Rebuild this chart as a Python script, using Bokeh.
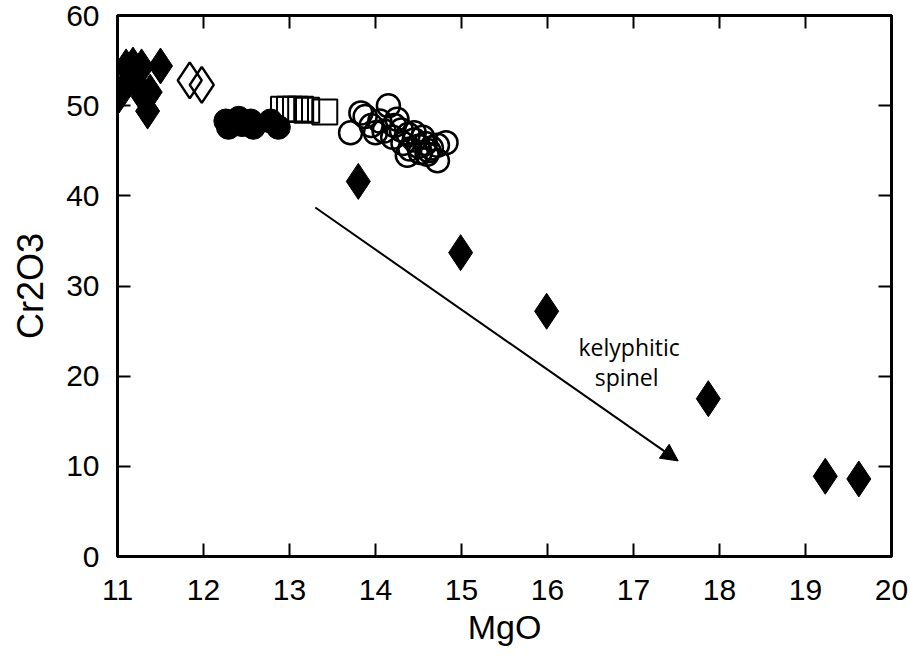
from bokeh.plotting import figure
from bokeh.models import Range1d, FixedTicker, LinearAxis, Arrow, NormalHead
from bokeh.core.properties import value
from bokeh.embed import file_html
from bokeh.resources import INLINE

# ---- data ----
fdia_x = [11.02, 11.1, 11.18, 11.28, 11.22, 11.3, 11.35, 11.38, 11.5, 11.15,
          13.80, 14.99, 15.99, 17.87, 19.23, 19.62]
fdia_y = [51.2, 54.3, 54.5, 54.3, 52.5, 51.0, 49.4, 51.5, 54.4, 53.0,
          41.6, 33.7, 27.2, 17.5, 8.9, 8.6]

odia_x = [11.84, 11.98]
odia_y = [52.8, 52.3]

fcir_x = [12.26, 12.41, 12.29, 12.58, 12.55, 12.87, 12.78, 12.45]
fcir_y = [48.3, 48.6, 47.6, 47.6, 48.3, 47.6, 48.3, 47.9]

osq_x = [12.93, 13.0, 13.07, 13.13, 13.2, 13.41]
osq_y = [49.6, 49.6, 49.6, 49.6, 49.5, 49.3]

ocir_x = [13.71, 13.83, 13.88, 13.95, 14.05, 14.15, 14.10, 14.20, 14.25, 14.30,
          14.32, 14.38, 14.40, 14.45, 14.50, 14.52, 14.58, 14.60, 14.65, 14.72,
          14.72, 14.82, 14.55, 14.37, 14.00, 14.22, 14.45, 14.62]
ocir_y = [47.0, 49.2, 48.8, 47.8, 48.3, 50.0, 47.2, 46.5, 48.5, 47.3,
          45.8, 46.8, 45.2, 46.2, 45.5, 44.8, 45.8, 44.6, 45.3, 43.9,
          45.6, 45.9, 46.5, 44.5, 47.0, 47.8, 47.0, 45.0]

arrow_x = [13.30, 17.52]
arrow_y = [38.7, 10.6]

note_text = ["kelyphitic", "spinel"]
note_x = [16.95, 16.92]
note_y = [23.2, 19.9]

x_ticks = [11, 12, 13, 14, 15, 16, 17, 18, 19, 20]
y_ticks = [0, 10, 20, 30, 40, 50, 60]

FONT = "'Liberation Sans', Arial, sans-serif"

p = figure(width=910, height=658, output_backend="svg", toolbar_location=None,
           x_range=Range1d(11, 20), y_range=Range1d(0, 60),
           min_border_left=117, min_border_right=19, min_border_top=15,
           min_border_bottom=102)
p.grid.visible = False
p.background_fill_color = "white"
p.border_fill_color = "white"
p.outline_line_color = "black"
p.outline_line_width = 3

for ax, ticks in ((p.xaxis[0], x_ticks), (p.yaxis[0], y_ticks)):
    ax.ticker = FixedTicker(ticks=ticks)
    ax.minor_tick_line_color = None
    ax.major_tick_in = 13
    ax.major_tick_out = 0
    ax.major_tick_line_width = 2
    ax.axis_line_width = 3
    ax.major_label_text_font = FONT
    ax.major_label_text_font_size = "30px"
    ax.major_label_text_color = "black"
    ax.axis_label_text_font = FONT
    ax.axis_label_text_font_style = "normal"
    ax.axis_label_text_color = "black"

p.xaxis.axis_label = "MgO"
p.yaxis.axis_label = "Cr2O3"
p.xaxis.axis_label_text_font_size = "34px"
p.yaxis.axis_label_text_font_size = "36px"
p.xaxis.major_label_standoff = 23
p.xaxis.axis_label_standoff = 5
p.yaxis.major_label_standoff = 18
p.yaxis.axis_label_standoff = 12

# ticks on top and right (labels not drawn)
for side, ticks in (("above", x_ticks), ("right", y_ticks)):
    a = LinearAxis(ticker=FixedTicker(ticks=ticks))
    a.major_tick_in = 13
    a.major_tick_out = 0
    a.major_tick_line_width = 2
    a.minor_tick_line_color = None
    a.axis_line_width = 3
    a.major_label_text_font_size = "0px"
    a.major_label_text_color = None
    a.major_label_standoff = 0
    p.add_layout(a, side)

# markers
p.scatter(ocir_x, ocir_y, marker="circle", size=23, fill_color=None,
          line_color="black", line_width=2.5)
p.scatter(osq_x, osq_y, marker="square", size=25, fill_color=None,
          line_color="black", line_width=2)
p.scatter(fcir_x, fcir_y, marker="circle", size=24, fill_color="black",
          line_color="black")
p.scatter(odia_x, odia_y, marker="diamond", size=36, fill_color=None,
          line_color="black", line_width=2.5)
p.scatter(fdia_x, fdia_y, marker="diamond", size=36, fill_color="black",
          line_color="black")

p.add_layout(Arrow(end=NormalHead(size=17, fill_color="black", line_color="black"),
                   x_start=arrow_x[0], y_start=arrow_y[0],
                   x_end=arrow_x[1], y_end=arrow_y[1],
                   line_width=2, line_color="black"))

p.text(x=note_x, y=note_y, text=note_text, text_font=value("Open Sans"),
       text_font_size="23px", text_align="center", text_baseline="alphabetic",
       text_color="black")

open("out.html", "w").write(file_html(p, INLINE))
